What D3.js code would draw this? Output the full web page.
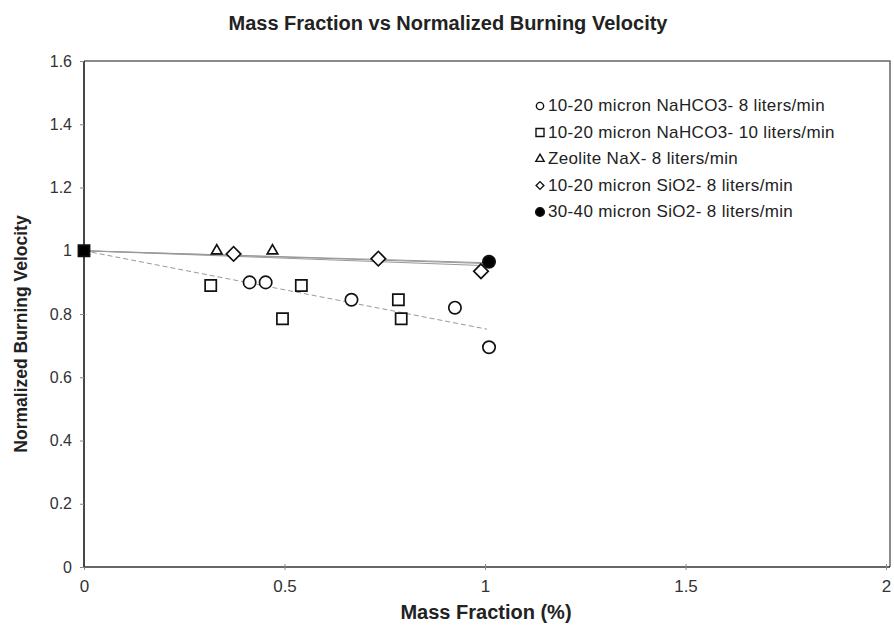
<!DOCTYPE html>
<html>
<head>
<meta charset="utf-8">
<script src="https://cdn.jsdelivr.net/npm/d3@7"></script>
<style>
  html, body { margin: 0; padding: 0; background: #fff; }
  svg { display: block; font-family: "Liberation Sans", Arial, sans-serif; }
</style>
</head>
<body>
<svg id="chart" width="894" height="628"></svg>
<script>
// Axis ticks
const xTicks = [0, 0.5, 1, 1.5, 2];
const yTicks = [0, 0.2, 0.4, 0.6, 0.8, 1, 1.2, 1.4, 1.6];

// Series: [mass fraction, normalized burning velocity]
const nahco3_8 = [[0.413, 0.90], [0.453, 0.90], [0.667, 0.845], [0.925, 0.82], [1.01, 0.695]];
const nahco3_10 = [[0, 1.0], [0.316, 0.89], [0.495, 0.785], [0.542, 0.89], [0.784, 0.845], [0.791, 0.785]];
const zeolite_8 = [[0.331, 1.0], [0.47, 1.0]];
const sio2_1020_8 = [[0.373, 0.99], [0.734, 0.975], [0.99, 0.935]];
const sio2_3040_8 = [[1.01, 0.965]];

// Trend lines: [x0, y0, x1, y1]
const trendDashed = [[0, 1.0, 1.005, 0.752]];
const trendSolid = [[0, 1.0, 1.0, 0.953], [0, 1.0, 0.99, 0.96], [0, 1.0, 1.01, 0.962]];

const legendLabels = [
  "10-20 micron NaHCO3- 8 liters/min",
  "10-20 micron NaHCO3- 10 liters/min",
  "Zeolite NaX- 8 liters/min",
  "10-20 micron SiO2- 8 liters/min",
  "30-40 micron SiO2- 8 liters/min"
];

const svg = d3.select("#chart");
const x = d3.scaleLinear().domain([0, 2]).range([84, 886]);
const y = d3.scaleLinear().domain([0, 1.6]).range([567, 61]);

// Title
svg.append("text").attr("x", 448).attr("y", 30).attr("text-anchor", "middle")
  .attr("font-weight", "bold").attr("font-size", 20).attr("fill", "#222")
  .text("Mass Fraction vs Normalized Burning Velocity");

// Plot frame (top and right)
svg.append("path")
  .attr("d", `M${x(0)},${y(1.6)}H${x(2) + 4}V${y(0)}`)
  .attr("fill", "none").attr("stroke", "#666").attr("stroke-width", 1.5);

// Axes
const xAxis = d3.axisBottom(x).tickValues(xTicks).tickSize(4).tickFormat(d3.format(""));
const gx = svg.append("g").attr("transform", `translate(0,${y(0)})`).call(xAxis);
gx.select(".domain").attr("d", `M${x(0)},0H${x(2) + 4}`).attr("stroke", "#333").attr("stroke-width", 1.5);
gx.selectAll(".tick line").attr("stroke", "#888").attr("y1", -3).attr("y2", 3);
gx.selectAll(".tick text").attr("y", 13).attr("dy", "0.71em").attr("font-size", 17).attr("fill", "#333")
  .attr("font-family", "Liberation Sans, Arial, sans-serif");

const yAxis = d3.axisLeft(y).tickValues(yTicks).tickSize(4).tickFormat(d3.format(""));
const gy = svg.append("g").attr("transform", `translate(${x(0)},0)`).call(yAxis);
gy.select(".domain").attr("d", `M0,${y(0)}V${y(1.6)}`).attr("stroke", "#333").attr("stroke-width", 1.8);
gy.selectAll(".tick line").attr("stroke", "#888");
gy.selectAll(".tick text").attr("x", -12).attr("font-size", 16).attr("fill", "#333")
  .attr("font-family", "Liberation Sans, Arial, sans-serif");

// Axis titles
svg.append("text").attr("x", 486).attr("y", 619).attr("text-anchor", "middle")
  .attr("font-weight", "bold").attr("font-size", 20).attr("fill", "#222")
  .text("Mass Fraction (%)");
svg.append("text").attr("transform", `translate(27,334) rotate(-90)`).attr("text-anchor", "middle")
  .attr("font-weight", "bold").attr("font-size", 17.5).attr("fill", "#222")
  .text("Normalized Burning Velocity");

// Trend lines
svg.append("g").selectAll("line").data(trendSolid).join("line")
  .attr("x1", d => x(d[0])).attr("y1", d => y(d[1]))
  .attr("x2", d => x(d[2])).attr("y2", d => y(d[3]))
  .attr("stroke", "#999").attr("stroke-width", 1);
svg.append("g").selectAll("line").data(trendDashed).join("line")
  .attr("x1", d => x(d[0])).attr("y1", d => y(d[1]))
  .attr("x2", d => x(d[2])).attr("y2", d => y(d[3]))
  .attr("stroke", "#999").attr("stroke-width", 1).attr("stroke-dasharray", "5,3");

// Marker shapes
const sym = {
  circle: d3.symbol().type(d3.symbolCircle).size(120),
  square: d3.symbol().type(d3.symbolSquare).size(125),
  triangle: d3.symbol().type(d3.symbolTriangle).size(48),
  diamond: d3.symbol().type(d3.symbolSquare).size(105),
  dot: d3.symbol().type(d3.symbolCircle).size(120)
};
const rot = { diamond: 45 };

function drawSeries(data, shape, filled) {
  svg.append("g").selectAll("path").data(data).join("path")
    .attr("transform", d => `translate(${x(d[0])},${y(d[1])}) rotate(${rot[shape] || 0})`)
    .attr("d", sym[shape]())
    .attr("fill", filled ? "#000" : "#fff")
    .attr("stroke", "#111").attr("stroke-width", 1.7);
}
drawSeries(nahco3_8, "circle", false);
drawSeries(nahco3_10.slice(1), "square", false);
drawSeries(zeolite_8, "triangle", false);
drawSeries(sio2_1020_8, "diamond", false);
drawSeries(sio2_3040_8, "dot", true);
// Shared starting point of all series at (0, 1)
drawSeries(nahco3_10.slice(0, 1), "square", true);

// Legend
const legendShapes = ["circle", "square", "triangle", "diamond", "dot"];
const legendSym = {
  circle: d3.symbol().type(d3.symbolCircle).size(42),
  square: d3.symbol().type(d3.symbolSquare).size(64),
  triangle: d3.symbol().type(d3.symbolTriangle).size(30),
  diamond: d3.symbol().type(d3.symbolSquare).size(30),
  dot: d3.symbol().type(d3.symbolCircle).size(60)
};
const lg = svg.append("g").attr("transform", "translate(540,104)");
legendLabels.forEach((lab, i) => {
  const row = lg.append("g").attr("transform", `translate(0,${i * 26.5})`);
  row.append("path")
    .attr("transform", `translate(0,2) rotate(${rot[legendShapes[i]] || 0})`)
    .attr("d", legendSym[legendShapes[i]]())
    .attr("fill", legendShapes[i] === "dot" ? "#000" : "#fff")
    .attr("stroke", "#111").attr("stroke-width", 1.4);
  row.append("text").attr("x", 8).attr("y", 7).attr("font-size", 17)
    .attr("letter-spacing", 0.35).attr("fill", "#222")
    .text(lab);
});
</script>
</body>
</html>
